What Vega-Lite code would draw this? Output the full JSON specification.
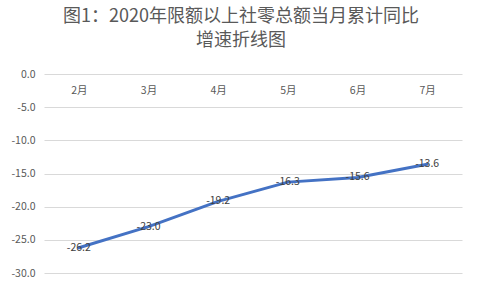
{
  "$schema": "https://vega.github.io/schema/vega-lite/v6.json",
  "width": 418,
  "height": 199,
  "autosize": {"type": "none"},
  "padding": {"left": 44, "top": 74, "right": 21, "bottom": 18},
  "background": "white",
  "title": {
    "text": ["图1：2020年限额以上社零总额当月累计同比", "增速折线图"],
    "font": "Noto Sans CJK SC",
    "fontSize": 18,
    "fontWeight": "normal",
    "color": "#595959",
    "anchor": "middle",
    "dx": -12,
    "offset": 19,
    "lineHeight": 24
  },
  "data": {
    "values": [
      {"month": "2月", "value": -26.2},
      {"month": "3月", "value": -23.0},
      {"month": "4月", "value": -19.2},
      {"month": "5月", "value": -16.3},
      {"month": "6月", "value": -15.6},
      {"month": "7月", "value": -13.6}
    ]
  },
  "encoding": {
    "x": {
      "field": "month",
      "type": "ordinal",
      "sort": null,
      "scale": {"type": "point", "padding": 0.5},
      "axis": {
        "orient": "top",
        "title": null,
        "domain": false,
        "ticks": false,
        "tickSize": 0,
        "labelPadding": -21,
        "labelAngle": 0,
        "labelFont": "Noto Sans CJK SC",
        "labelFontSize": 10.5,
        "labelColor": "#595959",
        "grid": false
      }
    },
    "y": {
      "field": "value",
      "type": "quantitative",
      "scale": {"domain": [-30, 0], "nice": false, "zero": false},
      "axis": {
        "title": null,
        "values": [0, -5, -10, -15, -20, -25, -30],
        "format": ".1f",
        "domain": false,
        "ticks": false,
        "tickSize": 0,
        "labelPadding": 9,
        "labelFont": "Noto Sans CJK SC",
        "labelFontSize": 10.5,
        "labelColor": "#595959",
        "grid": true,
        "gridColor": "#d9d9d9",
        "gridWidth": 1
      }
    }
  },
  "layer": [
    {
      "mark": {"type": "line", "color": "#4472C4", "strokeWidth": 3, "strokeCap": "round", "strokeJoin": "round"}
    },
    {
      "mark": {"type": "text", "font": "Noto Sans CJK SC", "fontSize": 10.5, "color": "#404040", "align": "center", "baseline": "middle"},
      "encoding": {"text": {"field": "value", "type": "quantitative", "format": ".1f"}}
    }
  ],
  "config": {
    "view": {"stroke": null},
    "locale": {
      "number": {"decimal": ".", "thousands": ",", "grouping": [3], "currency": ["$", ""], "minus": "-"}
    }
  }
}
